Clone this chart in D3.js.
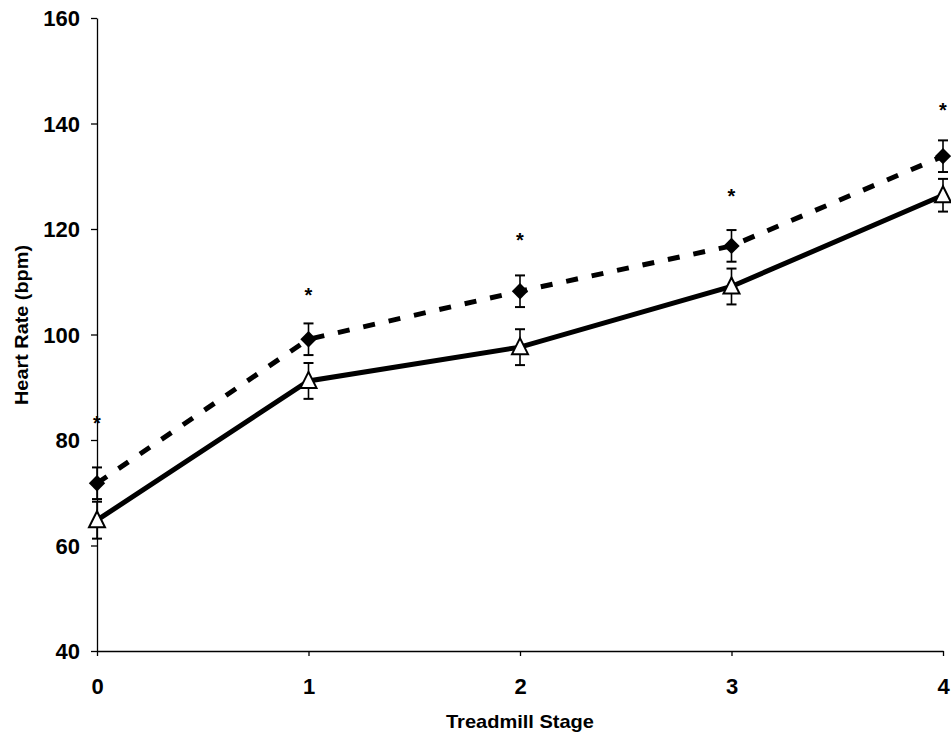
<!DOCTYPE html>
<html>
<head>
<meta charset="utf-8">
<script src="https://cdn.jsdelivr.net/npm/d3@7"></script>
<style>
  body { margin: 0; background: #fff; }
  svg { display: block; }
  .axis text { font-family: "Liberation Sans", Arial, sans-serif; font-weight: bold; font-size: 22px; fill: #000; }
  .axis path, .axis line { stroke: #000; stroke-width: 1.3; }
  .title { font-family: "Liberation Sans", Arial, sans-serif; font-weight: bold; font-size: 19px; }
</style>
</head>
<body>
<div id="graphic"></div>
<script>
// values
var stages = [0, 1, 2, 3, 4];
var yTicks = [40, 60, 80, 100, 120, 140, 160];
var diamondMean = [71.8, 99.1, 108.2, 116.8, 133.8];
var diamondErr = [3.0, 3.0, 3.0, 3.0, 3.0];
var triangleMean = [64.8, 91.2, 97.6, 109.1, 126.4];
var triangleErr = [3.5, 3.4, 3.4, 3.4, 3.1];
var asteriskY = [84.6, 108.8, 119.2, 127.6, 143.9];

var width = 951, height = 738;
var margin = {top: 18, right: 8, bottom: 87, left: 97};
var chart_width = width - margin.left - margin.right;
var chart_height = height - margin.top - margin.bottom;

var x = d3.scaleLinear().domain([0, 4]).range([0, chart_width]);
var y = d3.scaleLinear().domain([40, 160]).range([chart_height, 0]);

var svg = d3.select('#graphic').append('svg')
  .attr('width', width)
  .attr('height', height)
  .append('g')
  .attr('transform', 'translate(' + margin.left + ',' + margin.top + ')');

// axes
svg.append('g')
  .attr('class', 'axis')
  .call(d3.axisLeft(y).tickValues(yTicks).tickSize(6).tickSizeOuter(0).tickPadding(11))
  .selectAll('text').attr('dy', '0.36em');

svg.append('g')
  .attr('class', 'axis')
  .attr('transform', 'translate(0,' + chart_height + ')')
  .call(d3.axisBottom(x).tickValues(stages).tickFormat(d3.format('d')).tickSize(5).tickSizeOuter(0).tickPadding(22));

// axis titles
svg.append('text')
  .attr('class', 'title')
  .attr('x', x(2))
  .attr('y', chart_height + 77)
  .attr('text-anchor', 'middle')
  .attr('textLength', 148)
  .attr('lengthAdjust', 'spacingAndGlyphs')
  .text('Treadmill Stage');

svg.append('text')
  .attr('class', 'title')
  .attr('transform', 'translate(' + (-69) + ',' + y(101.8) + ') rotate(-90)')
  .attr('text-anchor', 'middle')
  .attr('textLength', 160)
  .attr('lengthAdjust', 'spacingAndGlyphs')
  .text('Heart Rate (bpm)');

var line = d3.line()
  .x(function(d, i) { return x(stages[i]); })
  .y(function(d) { return y(d); });

// connecting lines
svg.append('path')
  .attr('d', line(triangleMean))
  .attr('fill', 'none')
  .attr('stroke', '#000')
  .attr('stroke-width', 5);

svg.append('path')
  .attr('d', line(diamondMean))
  .attr('fill', 'none')
  .attr('stroke', '#000')
  .attr('stroke-width', 5)
  .attr('stroke-dasharray', '12,14');

// error bars
function errorBars(mean, err) {
  var g = svg.append('g').attr('stroke', '#000').attr('stroke-width', 1.6);
  stages.forEach(function(s, i) {
    var cx = x(s);
    g.append('line').attr('x1', cx).attr('x2', cx).attr('y1', y(mean[i] - err[i])).attr('y2', y(mean[i] + err[i]));
    [mean[i] - err[i], mean[i] + err[i]].forEach(function(v) {
      g.append('line').attr('x1', cx - 5).attr('x2', cx + 5).attr('y1', y(v)).attr('y2', y(v)).attr('stroke-width', 2);
    });
  });
}
errorBars(triangleMean, triangleErr);
errorBars(diamondMean, diamondErr);

// markers
svg.selectAll('path.diamond')
  .data(diamondMean)
  .join('path')
  .attr('class', 'diamond')
  .attr('d', d3.symbol(d3.symbolDiamond2, 170))
  .attr('transform', function(d, i) { return 'translate(' + x(stages[i]) + ',' + y(d) + ')'; })
  .attr('fill', '#000');

svg.selectAll('path.triangle')
  .data(triangleMean)
  .join('path')
  .attr('class', 'triangle')
  .attr('d', 'M0,-9L8,7L-8,7Z')
  .attr('transform', function(d, i) { return 'translate(' + x(stages[i]) + ',' + y(d) + ')'; })
  .attr('fill', '#fff')
  .attr('stroke', '#000')
  .attr('stroke-width', 2);

// significance asterisks
svg.selectAll('text.ast')
  .data(asteriskY)
  .join('text')
  .attr('class', 'title')
  .attr('x', function(d, i) { return x(stages[i]); })
  .attr('y', function(d) { return y(d); })
  .attr('dy', '0.7em')
  .attr('text-anchor', 'middle')
  .style('font-size', '20px')
  .text('*');
</script>
</body>
</html>
